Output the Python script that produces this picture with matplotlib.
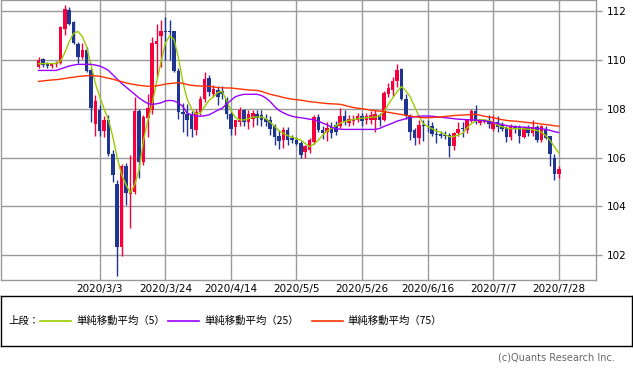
import matplotlib
matplotlib.use("Agg")
import matplotlib.pyplot as plt
import pandas as pd
import numpy as np

plt.rcParams['font.family'] = ['DejaVu Sans']

# 営業日 (2020/2/12 - 2020/7/28)
dates = pd.bdate_range("2020-02-12", "2020-07-28")

opens = [109.72, 110.05, 109.88, 109.76, 109.86, 109.88, 111.30, 112.08, 111.58, 110.68,
         110.15, 110.40, 109.60, 107.38, 107.94, 107.10, 107.53, 106.14, 104.90, 102.34,
         105.66, 104.50, 104.60, 107.90, 105.82, 107.64, 107.94, 110.65, 110.99, 111.20,
         111.20, 111.18, 109.55, 107.87, 107.80, 107.74, 107.15, 107.87, 108.42, 109.25,
         108.63, 108.76, 108.72, 108.42, 107.81, 107.26, 107.47, 107.94, 107.46, 107.60,
         107.81, 107.74, 107.60, 107.56, 107.29, 106.88, 106.72, 107.12, 106.82, 106.74,
         106.60, 106.23, 106.30, 106.64, 107.67, 107.12, 107.05, 107.26, 107.33, 107.29,
         107.70, 107.42, 107.50, 107.56, 107.70, 107.56, 107.53, 107.56, 107.74, 107.53,
         108.62, 108.79, 109.14, 109.65, 108.42, 107.70, 107.12, 106.82, 107.33, 107.32,
         107.29, 106.99, 106.96, 106.95, 106.92, 106.47, 107.01, 107.20, 107.12, 107.50,
         107.90, 107.42, 107.48, 107.50, 107.19, 107.46, 107.33, 107.23, 106.85, 107.28,
         107.26, 106.85, 107.25, 107.00, 107.26, 106.71, 107.19, 106.88, 105.99, 105.35]
highs = [110.12, 110.10, 109.92, 109.90, 109.98, 111.40, 112.25, 112.18, 111.60, 110.75,
         110.70, 110.55, 109.70, 108.56, 108.15, 107.70, 107.74, 106.30, 105.10, 105.75,
         105.80, 106.10, 108.49, 108.00, 107.75, 108.63, 110.95, 111.47, 111.63, 111.77,
         111.66, 111.20, 109.70, 108.23, 108.20, 107.90, 108.00, 108.55, 109.51, 109.38,
         109.00, 108.95, 108.95, 108.50, 107.90, 107.55, 108.10, 108.00, 107.94, 107.94,
         107.97, 107.97, 107.80, 107.70, 107.40, 107.12, 107.27, 107.27, 106.95, 106.85,
         106.70, 106.50, 106.80, 107.75, 107.80, 107.30, 107.45, 107.45, 107.50, 108.05,
         107.95, 107.75, 107.75, 107.85, 107.85, 107.85, 107.90, 107.95, 107.85, 108.75,
         109.05, 109.30, 109.83, 109.70, 108.60, 107.80, 107.20, 107.55, 107.55, 107.55,
         107.45, 107.20, 107.10, 107.10, 107.00, 107.05, 107.45, 107.45, 107.60, 108.00,
         108.15, 107.60, 107.60, 107.75, 107.77, 107.72, 107.45, 107.30, 107.38, 107.35,
         107.35, 107.30, 107.35, 107.55, 107.35, 107.35, 107.30, 106.90, 106.14, 105.65]
lows = [109.68, 109.72, 109.70, 109.68, 109.72, 109.85, 111.05, 111.45, 110.65, 109.87,
        110.05, 109.50, 107.45, 106.90, 106.88, 106.85, 106.05, 105.00, 101.14, 101.96,
        104.05, 103.10, 104.50, 105.15, 105.70, 106.85, 107.80, 109.30, 109.72, 110.00,
        109.99, 109.50, 107.60, 107.05, 106.88, 106.85, 106.95, 107.75, 108.30, 108.55,
        108.50, 108.15, 108.40, 107.60, 106.95, 106.92, 107.30, 107.30, 107.19, 107.25,
        107.35, 107.30, 107.30, 106.95, 106.50, 106.35, 106.40, 106.50, 106.60, 106.50,
        105.99, 106.00, 106.20, 106.55, 107.05, 106.75, 106.70, 106.80, 106.95, 107.20,
        107.35, 107.30, 107.35, 107.45, 107.30, 107.40, 107.40, 107.05, 107.30, 107.50,
        108.50, 108.55, 108.90, 108.35, 107.60, 106.71, 106.54, 106.58, 106.67, 107.05,
        106.90, 106.60, 106.80, 106.75, 106.03, 106.30, 106.90, 106.85, 107.00, 107.45,
        107.40, 107.35, 107.42, 107.20, 107.10, 107.05, 107.10, 106.64, 106.73, 107.00,
        106.60, 106.80, 106.90, 106.90, 106.65, 106.65, 106.75, 105.65, 105.10, 105.15]
closes = [110.02, 109.80, 109.78, 109.86, 109.88, 111.35, 112.10, 111.50, 110.70, 110.15,
          110.40, 109.55, 108.05, 108.31, 107.10, 107.53, 106.14, 105.28, 102.34, 105.66,
          104.53, 104.65, 107.90, 105.82, 107.67, 108.05, 110.70, 110.80, 111.18, 111.15,
          111.15, 109.55, 107.87, 107.80, 107.53, 107.16, 107.87, 108.42, 109.21, 108.70,
          108.80, 108.49, 108.60, 107.81, 107.19, 107.54, 107.97, 107.46, 107.81, 107.83,
          107.64, 107.56, 107.46, 107.19, 106.85, 106.69, 107.12, 106.72, 106.71, 106.58,
          106.10, 106.47, 106.71, 107.67, 107.12, 107.01, 107.23, 107.01, 107.05, 107.70,
          107.46, 107.60, 107.60, 107.70, 107.52, 107.70, 107.74, 107.78, 107.53, 108.65,
          108.87, 109.14, 109.60, 108.42, 107.70, 107.05, 106.82, 107.33, 107.30, 107.28,
          106.96, 106.92, 106.88, 106.88, 106.47, 107.01, 107.19, 107.18, 107.53, 107.90,
          107.46, 107.53, 107.53, 107.37, 107.46, 107.25, 107.19, 106.85, 107.30, 107.20,
          106.89, 107.23, 107.00, 107.25, 106.71, 107.29, 106.82, 106.14, 105.35, 105.55]

# 単純移動平均 (チャートから読み取り)
ma5 = [109.86, 109.86, 109.86, 109.86, 109.87, 109.95, 110.30, 110.75, 111.10, 111.18,
       110.98, 110.55, 109.80, 109.05, 108.50, 108.00, 107.55, 106.85, 106.00, 105.30,
       104.90, 104.55, 104.90, 105.50, 106.70, 107.53, 108.20, 109.10, 109.90, 110.70,
       111.00, 110.85, 110.10, 109.10, 108.40, 108.00, 107.80, 107.83, 108.10, 108.35,
       108.50, 108.68, 108.72, 108.35, 107.94, 107.65, 107.55, 107.55, 107.60, 107.67,
       107.67, 107.67, 107.60, 107.45, 107.29, 107.10, 107.00, 106.90, 106.85, 106.78,
       106.72, 106.58, 106.45, 106.55, 106.72, 106.92, 107.10, 107.20, 107.30, 107.42,
       107.48, 107.53, 107.57, 107.60, 107.62, 107.64, 107.66, 107.67, 107.70, 107.90,
       108.18, 108.45, 108.70, 108.92, 108.75, 108.50, 108.10, 107.70, 107.40, 107.28,
       107.19, 107.10, 107.05, 106.95, 106.86, 106.87, 106.93, 107.00, 107.22, 107.40,
       107.50, 107.56, 107.55, 107.52, 107.45, 107.33, 107.27, 107.22, 107.19, 107.19,
       107.19, 107.19, 107.17, 107.15, 107.12, 107.05, 106.90, 106.71, 106.45, 106.19]
ma25 = [109.58, 109.58, 109.58, 109.58, 109.58, 109.64, 109.70, 109.76, 109.80, 109.83,
        109.83, 109.83, 109.83, 109.80, 109.76, 109.68, 109.58, 109.40, 109.22, 109.05,
        108.90, 108.75, 108.60, 108.45, 108.33, 108.22, 108.19, 108.21, 108.25, 108.33,
        108.35, 108.33, 108.25, 108.10, 107.82, 107.76, 107.72, 107.70, 107.72, 107.76,
        107.85, 107.95, 108.03, 108.20, 108.35, 108.50, 108.56, 108.60, 108.60, 108.60,
        108.60, 108.55, 108.45, 108.30, 108.10, 107.94, 107.84, 107.76, 107.70, 107.66,
        107.64, 107.61, 107.58, 107.56, 107.50, 107.42, 107.35, 107.25, 107.19, 107.17,
        107.16, 107.16, 107.16, 107.16, 107.16, 107.16, 107.16, 107.16, 107.20, 107.28,
        107.35, 107.42, 107.50, 107.55, 107.60, 107.64, 107.68, 107.70, 107.71, 107.71,
        107.70, 107.68, 107.66, 107.64, 107.62, 107.60, 107.58, 107.57, 107.56, 107.55,
        107.54, 107.53, 107.51, 107.48, 107.44, 107.40, 107.36, 107.32, 107.29, 107.27,
        107.26, 107.25, 107.24, 107.22, 107.20, 107.19, 107.16, 107.12, 107.07, 107.03]
ma75 = [109.13, 109.15, 109.17, 109.19, 109.20, 109.22, 109.25, 109.28, 109.30, 109.33,
        109.35, 109.36, 109.37, 109.36, 109.34, 109.30, 109.26, 109.22, 109.17, 109.12,
        109.07, 109.03, 109.00, 108.97, 108.95, 108.93, 108.93, 108.95, 108.98, 109.02,
        109.04, 109.06, 109.08, 109.05, 109.00, 108.97, 108.95, 108.94, 108.93, 108.93,
        108.90, 108.88, 108.87, 108.86, 108.86, 108.84, 108.82, 108.80, 108.78, 108.77,
        108.76, 108.72, 108.66, 108.60, 108.56, 108.52, 108.47, 108.43, 108.40, 108.38,
        108.36, 108.33, 108.30, 108.28, 108.26, 108.24, 108.22, 108.21, 108.20, 108.19,
        108.15, 108.10, 108.06, 108.03, 108.01, 107.98, 107.95, 107.93, 107.91, 107.89,
        107.86, 107.83, 107.80, 107.77, 107.74, 107.71, 107.68, 107.66, 107.64, 107.64,
        107.65, 107.66, 107.67, 107.69, 107.71, 107.73, 107.74, 107.75, 107.76, 107.77,
        107.78, 107.74, 107.70, 107.67, 107.64, 107.60, 107.56, 107.53, 107.51, 107.50,
        107.48, 107.46, 107.44, 107.42, 107.41, 107.38, 107.36, 107.34, 107.31, 107.29]

tick_idx = [14, 29, 44, 59, 74, 89, 104, 119]
y_ticks = [102, 104, 106, 108, 110, 112]

UP = "#f5003a"
DOWN = "#1f3591"
GRID = "#9a9a9a"

W, H = 633, 373
fig = plt.figure(figsize=(W / 100, H / 100), dpi=100)
ax = fig.add_axes([0.5 / W, 1 - 280 / H, 595 / W, 279.5 / H])

x = np.arange(len(dates))
o = np.array(opens)
c = np.array(closes)
colors = [UP if cc >= oo else DOWN for oo, cc in zip(o, c)]

ax.vlines(x, lows, highs, colors=colors, linewidth=1, zorder=3)
body = np.maximum(np.abs(c - o), 0.03)
ax.bar(x, body, bottom=np.minimum(o, c), width=0.8, color=colors,
       linewidth=0, zorder=4)

ax.plot(x, ma5, color="#99cc00", linewidth=1, zorder=5)
ax.plot(x, ma25, color="#9900ff", linewidth=1, zorder=5)
ax.plot(x, ma75, color="#ff3300", linewidth=1, zorder=5)

ax.set_xlim(-8.7, 127.4)
ax.set_ylim(100.98, 112.45)

ax.set_xticks(tick_idx)
ax.set_xticklabels([f"{dates[i].year}/{dates[i].month}/{dates[i].day}" for i in tick_idx],
                   fontsize=7.5)
ax.set_yticks(y_ticks)
ax.set_yticklabels([str(v) for v in y_ticks], fontsize=7.5)
ax.yaxis.tick_right()
ax.tick_params(axis="y", length=4, width=1, color=GRID, pad=4)
ax.tick_params(axis="x", length=0, pad=3)
ax.grid(True, color=GRID, linewidth=1)
ax.set_axisbelow(True)
for s in ax.spines.values():
    s.set_color(GRID)
    s.set_linewidth(1)

# 凡例ボックス
lg = fig.add_axes([0.5 / W, 1 - 346 / H, 631.5 / W, 50 / H])
lg.set_xlim(0, W)
lg.set_ylim(0, 50)
lg.set_xticks([])
lg.set_yticks([])
for s in lg.spines.values():
    s.set_color("black")
    s.set_linewidth(1)

jp = ['Noto Sans CJK JP', 'DejaVu Sans']
ly = 25
lg.text(8, ly, "上段：", family=jp, fontsize=7.5, va="center")
items = [("#99cc00", 40, "単純移動平均（5）"),
         ("#9900ff", 168, "単純移動平均（25）"),
         ("#ff3300", 312, "単純移動平均（75）")]
for col, x0, label in items:
    lg.plot([x0, x0 + 31], [ly, ly], color=col, linewidth=1.2)
    lg.text(x0 + 36, ly, label, family=jp, fontsize=7.5, va="center")

fig.text(615 / W, 1 - 358 / H, "(c)Quants Research Inc.", ha="right", va="center",
         fontsize=7, color="#666666")

fig.savefig("out.png", dpi=100)
